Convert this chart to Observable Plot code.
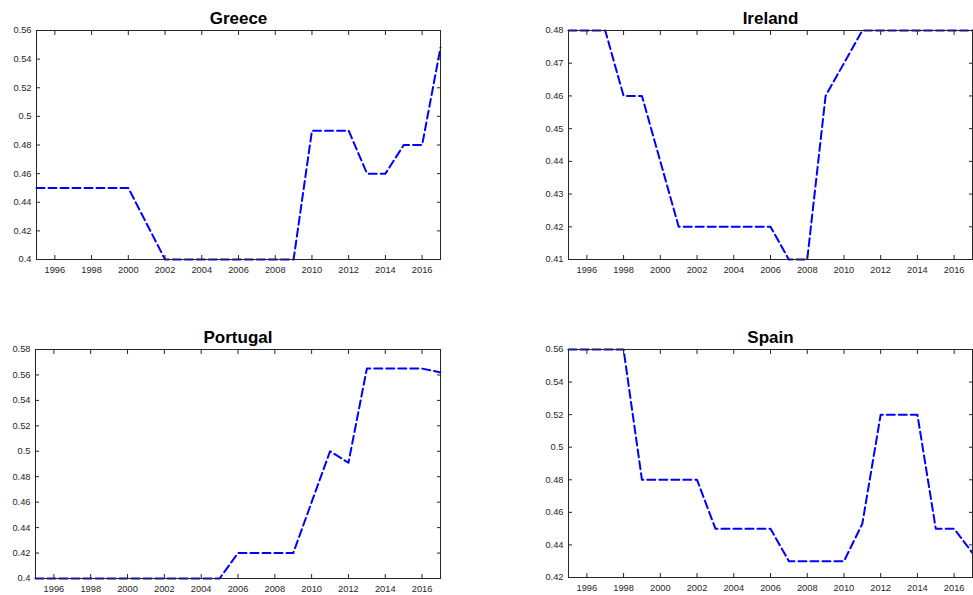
<!DOCTYPE html>
<html><head><meta charset="utf-8">
<script src="https://cdn.jsdelivr.net/npm/d3@7"></script>
<script src="https://cdn.jsdelivr.net/npm/@observablehq/plot@0.6"></script>
<style>
body{margin:0;background:#fff;}
#wrap{position:relative;width:973px;height:595px;overflow:hidden;background:#fff;}
#wrap svg{position:absolute;}
</style></head><body><div id="wrap"></div>
<script>
const years = [1995,1996,1997,1998,1999,2000,2001,2002,2003,2004,2005,2006,2007,2008,2009,2010,2011,2012,2013,2014,2015,2016,2017];
const greece   = [0.45,0.45,0.45,0.45,0.45,0.45,0.425,0.40,0.40,0.40,0.40,0.40,0.40,0.40,0.40,0.49,0.49,0.49,0.46,0.46,0.48,0.48,0.548];
const ireland  = [0.48,0.48,0.48,0.46,0.46,0.44,0.42,0.42,0.42,0.42,0.42,0.42,0.41,0.41,0.46,0.47,0.48,0.48,0.48,0.48,0.48,0.48,0.48];
const portugal = [0.40,0.40,0.40,0.40,0.40,0.40,0.40,0.40,0.40,0.40,0.40,0.42,0.42,0.42,0.42,0.46,0.50,0.491,0.565,0.565,0.565,0.565,0.562];
const spain    = [0.56,0.56,0.56,0.56,0.48,0.48,0.48,0.48,0.45,0.45,0.45,0.45,0.43,0.43,0.43,0.43,0.453,0.52,0.52,0.52,0.45,0.45,0.435];

const xTicks = [1996,1998,2000,2002,2004,2006,2008,2010,2012,2014,2016];
const greeceTicks   = [0.4,0.42,0.44,0.46,0.48,0.5,0.52,0.54,0.56];
const irelandTicks  = [0.41,0.42,0.43,0.44,0.45,0.46,0.47,0.48];
const portugalTicks = [0.4,0.42,0.44,0.46,0.48,0.5,0.52,0.54,0.56,0.58];
const spainTicks    = [0.42,0.44,0.46,0.48,0.5,0.52,0.54,0.56];

const wrap = document.getElementById("wrap");
const ink = "#262626";

function panel({title, values, yTicks, left, top, width, height, ml, mr, mt, mb}) {
  const data = years.map((year, i) => ({year, value: values[i]}));
  const svg = Plot.plot({
    width, height, marginLeft: ml, marginRight: mr, marginTop: mt, marginBottom: mb,
    style: {fontFamily: "'Liberation Sans', Arial, sans-serif", fontSize: "9.3px", color: ink, background: "transparent", overflow: "visible"},
    x: {domain: [years[0], years[years.length - 1]]},
    y: {domain: [yTicks[0], yTicks[yTicks.length - 1]]},
    marks: [
      Plot.line(data, {x: "year", y: "value", stroke: "#0000ff", strokeWidth: 2, strokeDasharray: "8,4"}),
      Plot.axisX({ticks: xTicks, anchor: "bottom", tickSize: 0, tickPadding: 7, tickFormat: d => String(d), label: null}),
      Plot.axisX({ticks: xTicks, anchor: "bottom", tickSize: -4, tickPadding: 0, tickFormat: () => "", label: null}),
      Plot.axisX({ticks: xTicks, anchor: "top", tickSize: -4, tickPadding: 0, tickFormat: () => "", label: null}),
      Plot.axisY({ticks: yTicks, anchor: "left", tickSize: 0, tickPadding: 5, tickFormat: d => String(d), label: null}),
      Plot.axisY({ticks: yTicks, anchor: "left", tickSize: -4, tickPadding: 0, tickFormat: () => "", label: null}),
      Plot.axisY({ticks: yTicks, anchor: "right", tickSize: -4, tickPadding: 0, tickFormat: () => "", label: null}),
      Plot.frame({stroke: ink}),
      Plot.text([title], {text: d => d, frameAnchor: "top", dy: -7, lineAnchor: "bottom", fontSize: 17, fontWeight: "bold", fill: "#000"})
    ]
  });
  svg.style.left = left + "px";
  svg.style.top = top + "px";
  wrap.appendChild(svg);
}

panel({title: "Greece",   values: greece,   yTicks: greeceTicks,   left: 0,   top: 0,   width: 486, height: 290, ml: 36, mr: 46, mt: 30, mb: 31});
panel({title: "Ireland",  values: ireland,  yTicks: irelandTicks,  left: 486, top: 0,   width: 487, height: 290, ml: 82, mr: 1,  mt: 30, mb: 31});
panel({title: "Portugal", values: portugal, yTicks: portugalTicks, left: 0,   top: 300, width: 486, height: 295, ml: 35, mr: 46, mt: 49, mb: 17});
panel({title: "Spain",    values: spain,    yTicks: spainTicks,    left: 486, top: 300, width: 487, height: 295, ml: 82, mr: 1,  mt: 49, mb: 18});
</script></body></html>
